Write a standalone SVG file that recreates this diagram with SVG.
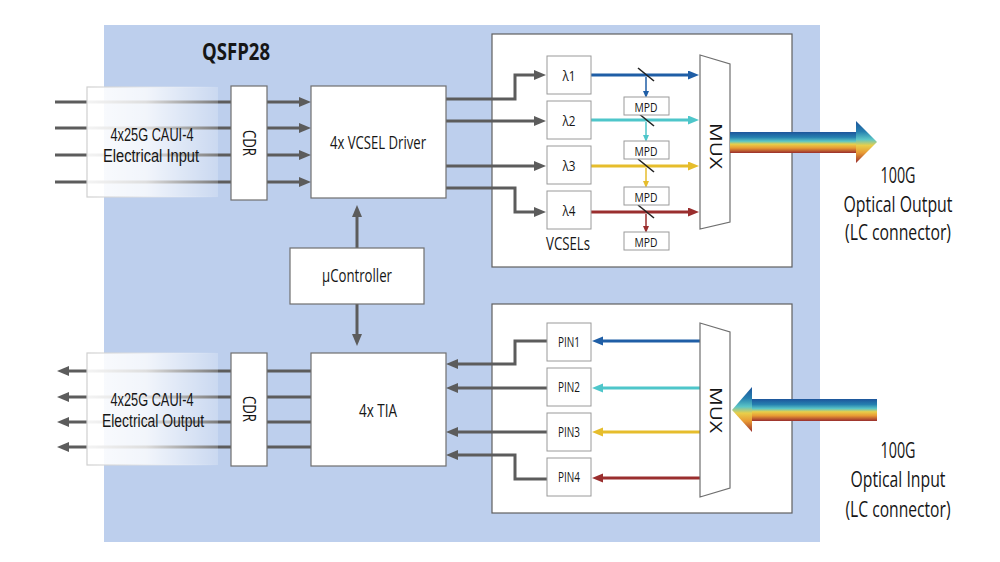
<svg xmlns="http://www.w3.org/2000/svg" width="1000" height="562" viewBox="0 0 1000 562">
<defs>
<style>
.txt{font-family:"Open Sans","Liberation Sans",sans-serif;fill:#161616;text-anchor:middle}
.tight{font-family:"Liberation Sans","Open Sans",sans-serif}
.box{fill:#fff;stroke:#6f6f6f;stroke-width:1.2}
.sbox{fill:#fff;stroke:#9a9a9a;stroke-width:1}
.panel{fill:#fff;stroke:#5f5f5f;stroke-width:1.2}
.wire{fill:none;stroke:#5c5c5c;stroke-width:3}
.g{marker-end:url(#ag)}
.beam{fill:none;stroke-width:3}
.tap{fill:none;stroke-width:1.5}
.mirror{stroke:#222;stroke-width:1.6}
</style>
<marker id="ag" markerUnits="userSpaceOnUse" markerWidth="13" markerHeight="11" refX="6" refY="5" orient="auto"><path d="M0,0 L12,5 L0,10 z" fill="#5c5c5c"/></marker>
<marker id="ab" markerUnits="userSpaceOnUse" markerWidth="12" markerHeight="10" refX="6" refY="4.5" orient="auto"><path d="M0,0 L11,4.5 L0,9 z" fill="#1f5ea6"/></marker>
<marker id="ac" markerUnits="userSpaceOnUse" markerWidth="12" markerHeight="10" refX="6" refY="4.5" orient="auto"><path d="M0,0 L11,4.5 L0,9 z" fill="#4ec6ca"/></marker>
<marker id="ay" markerUnits="userSpaceOnUse" markerWidth="12" markerHeight="10" refX="6" refY="4.5" orient="auto"><path d="M0,0 L11,4.5 L0,9 z" fill="#e6bd2c"/></marker>
<marker id="ar" markerUnits="userSpaceOnUse" markerWidth="12" markerHeight="10" refX="6" refY="4.5" orient="auto"><path d="M0,0 L11,4.5 L0,9 z" fill="#9a2e2e"/></marker>
<marker id="tb" markerUnits="userSpaceOnUse" markerWidth="8" markerHeight="8" refX="3" refY="3" orient="auto"><path d="M0,0 L7,3 L0,6 z" fill="#1f5ea6"/></marker>
<marker id="tc" markerUnits="userSpaceOnUse" markerWidth="8" markerHeight="8" refX="3" refY="3" orient="auto"><path d="M0,0 L7,3 L0,6 z" fill="#4ec6ca"/></marker>
<marker id="ty" markerUnits="userSpaceOnUse" markerWidth="8" markerHeight="8" refX="3" refY="3" orient="auto"><path d="M0,0 L7,3 L0,6 z" fill="#e6bd2c"/></marker>
<marker id="tr" markerUnits="userSpaceOnUse" markerWidth="8" markerHeight="8" refX="3" refY="3" orient="auto"><path d="M0,0 L7,3 L0,6 z" fill="#9a2e2e"/></marker>
<linearGradient id="fade" x1="0" y1="0" x2="1" y2="0">
<stop offset="0" stop-color="#fff" stop-opacity="0.93"/>
<stop offset="0.45" stop-color="#fff" stop-opacity="0.8"/>
<stop offset="1" stop-color="#fff" stop-opacity="0.2"/>
</linearGradient>
<linearGradient id="fadeStroke" x1="0" y1="0" x2="1" y2="0">
<stop offset="0" stop-color="#cfcfcf" stop-opacity="1"/>
<stop offset="0.3" stop-color="#dcdcdc" stop-opacity="0.8"/>
<stop offset="1" stop-color="#ffffff" stop-opacity="0"/>
</linearGradient>
<linearGradient id="rainbow" x1="0" y1="0" x2="0" y2="1">
<stop offset="0" stop-color="#1d559b"/>
<stop offset="0.25" stop-color="#2680b0"/>
<stop offset="0.44" stop-color="#5cc6c6"/>
<stop offset="0.58" stop-color="#e9cf4a"/>
<stop offset="0.76" stop-color="#e89a34"/>
<stop offset="1" stop-color="#992d2d"/>
</linearGradient>
</defs>

<rect width="1000" height="562" fill="#fff"/>
<rect id="qsfp28-body" x="104" y="25" width="716" height="517" fill="#bdcfed"/>

<g id="tx-optics-panel"><rect class="panel" x="492" y="34" width="300" height="233"/></g>
<g id="rx-optics-panel"><rect class="panel" x="492" y="304" width="300" height="209"/></g>

<g id="connectors">
<path class="wire" d="M55,102 H231 M55,128 H231 M55,155 H231 M55,182 H231"/>
<path class="wire g" d="M267,102 H305"/>
<path class="wire g" d="M267,128 H305"/>
<path class="wire g" d="M267,155 H305"/>
<path class="wire g" d="M267,182 H305"/>
<path class="wire g" d="M446,99 H515 V75 H540"/>
<path class="wire g" d="M446,121 H540"/>
<path class="wire g" d="M446,166 H540"/>
<path class="wire g" d="M446,188 H515 V212 H540"/>
<path class="wire g" d="M357,248 V211"/>
<path class="wire g" d="M357,304 V340"/>
<path class="wire g" d="M547,341 H515 V364 H452"/>
<path class="wire g" d="M547,388 H452"/>
<path class="wire g" d="M547,432 H452"/>
<path class="wire g" d="M547,479 H515 V455 H452"/>
<path class="wire" d="M311,371 H267 M311,397 H267 M311,422 H267 M311,447 H267"/>
<path class="wire g" d="M231,371 H63"/>
<path class="wire g" d="M231,397 H63"/>
<path class="wire g" d="M231,422 H63"/>
<path class="wire g" d="M231,447 H63"/>
<path class="beam" stroke="#1f5ea6" marker-end="url(#ab)" d="M591,75 H694"/>
<path class="beam" stroke="#4ec6ca" marker-end="url(#ac)" d="M591,120 H694"/>
<path class="beam" stroke="#e6bd2c" marker-end="url(#ay)" d="M591,166 H694"/>
<path class="beam" stroke="#9a2e2e" marker-end="url(#ar)" d="M591,212 H694"/>
<path class="tap" stroke="#1f5ea6" marker-end="url(#tb)" d="M646,77 V94"/>
<path class="tap" stroke="#4ec6ca" marker-end="url(#tc)" d="M646,122 V138"/>
<path class="tap" stroke="#e6bd2c" marker-end="url(#ty)" d="M646,168 V184"/>
<path class="tap" stroke="#9a2e2e" marker-end="url(#tr)" d="M646,214 V229"/>
<line class="mirror" x1="638" y1="68" x2="654" y2="81"/>
<line class="mirror" x1="638" y1="113" x2="654" y2="126"/>
<line class="mirror" x1="638" y1="159" x2="654" y2="172"/>
<line class="mirror" x1="638" y1="205" x2="654" y2="218"/>
<path class="beam" stroke="#1f5ea6" marker-end="url(#ab)" d="M700,341 H597"/>
<path class="beam" stroke="#4ec6ca" marker-end="url(#ac)" d="M700,388 H597"/>
<path class="beam" stroke="#e6bd2c" marker-end="url(#ay)" d="M700,432 H597"/>
<path class="beam" stroke="#9a2e2e" marker-end="url(#ar)" d="M700,478 H597"/>
</g>

<g id="electrical-input">
<rect x="87" y="87" width="131" height="110" fill="url(#fade)" stroke="url(#fadeStroke)" stroke-width="1.2"/>
<text class="txt tight" x="152" y="141" font-size="17.5" textLength="83" lengthAdjust="spacingAndGlyphs">4x25G CAUI-4</text>
<text class="txt tight" x="151" y="162" font-size="17.5" textLength="96" lengthAdjust="spacingAndGlyphs">Electrical Input</text>
</g>
<g id="electrical-output">
<rect x="87" y="353" width="131" height="112" fill="url(#fade)" stroke="url(#fadeStroke)" stroke-width="1.2"/>
<text class="txt tight" x="152" y="406" font-size="17.5" textLength="83" lengthAdjust="spacingAndGlyphs">4x25G CAUI-4</text>
<text class="txt tight" x="153" y="427" font-size="17.5" textLength="102" lengthAdjust="spacingAndGlyphs">Electrical Output</text>
</g>

<g id="title"><text class="txt" x="236" y="60" font-size="24" font-weight="bold" textLength="68" lengthAdjust="spacingAndGlyphs">QSFP28</text></g>

<g id="cdr-tx">
<rect class="box" x="231" y="86" width="36" height="114"/>
<text class="txt" transform="translate(249,143) rotate(90)" y="6.5" font-size="19" textLength="26" lengthAdjust="spacingAndGlyphs">CDR</text>
</g>
<g id="cdr-rx">
<rect class="box" x="231" y="353" width="36" height="113"/>
<text class="txt" transform="translate(249,409) rotate(90)" y="6.5" font-size="19" textLength="26" lengthAdjust="spacingAndGlyphs">CDR</text>
</g>
<g id="vcsel-driver">
<rect class="box" x="311" y="86" width="135" height="112"/>
<text class="txt" x="378" y="149" font-size="18.5" textLength="96" lengthAdjust="spacingAndGlyphs">4x VCSEL Driver</text>
</g>
<g id="ucontroller">
<rect class="box" x="290" y="248" width="134" height="56"/>
<text class="txt" x="357" y="282" font-size="17.5" textLength="70" lengthAdjust="spacingAndGlyphs">µController</text>
</g>
<g id="tia">
<rect class="box" x="311" y="353" width="135" height="113"/>
<text class="txt" x="378" y="417" font-size="18.5" textLength="38" lengthAdjust="spacingAndGlyphs">4x TIA</text>
</g>

<g id="vcsel-1"><rect class="sbox" x="547" y="56" width="44" height="38"/><text class="txt" x="569" y="81" font-size="15" textLength="13" lengthAdjust="spacingAndGlyphs">λ1</text></g>
<g id="vcsel-2"><rect class="sbox" x="547" y="101" width="44" height="38"/><text class="txt" x="569" y="126" font-size="15" textLength="13" lengthAdjust="spacingAndGlyphs">λ2</text></g>
<g id="vcsel-3"><rect class="sbox" x="547" y="146" width="44" height="38"/><text class="txt" x="569" y="171" font-size="15" textLength="13" lengthAdjust="spacingAndGlyphs">λ3</text></g>
<g id="vcsel-4"><rect class="sbox" x="547" y="191" width="44" height="38"/><text class="txt" x="569" y="216" font-size="15" textLength="13" lengthAdjust="spacingAndGlyphs">λ4</text></g>
<g id="vcsels-label"><text class="txt" x="568" y="250" font-size="18" textLength="44" lengthAdjust="spacingAndGlyphs">VCSELs</text></g>

<g id="mpd-1"><rect class="sbox" x="624" y="97" width="45" height="18"/><text class="txt" x="646" y="111.5" font-size="13.5" textLength="23" lengthAdjust="spacingAndGlyphs">MPD</text></g>
<g id="mpd-2"><rect class="sbox" x="624" y="141" width="45" height="18"/><text class="txt" x="646" y="155.5" font-size="13.5" textLength="23" lengthAdjust="spacingAndGlyphs">MPD</text></g>
<g id="mpd-3"><rect class="sbox" x="624" y="187" width="45" height="18"/><text class="txt" x="646" y="201.5" font-size="13.5" textLength="23" lengthAdjust="spacingAndGlyphs">MPD</text></g>
<g id="mpd-4"><rect class="sbox" x="624" y="232" width="45" height="18"/><text class="txt" x="646" y="246.5" font-size="13.5" textLength="23" lengthAdjust="spacingAndGlyphs">MPD</text></g>

<g id="mux-tx">
<path d="M700,55 L730,64 L730,222 L700,229 Z" fill="#fff" stroke="#6f6f6f" stroke-width="1.2"/>
<text class="txt" transform="translate(716,146) rotate(90)" y="6" font-size="17" textLength="46" lengthAdjust="spacingAndGlyphs">MUX</text>
</g>
<g id="mux-rx">
<path d="M700,323 L730,332 L730,488 L700,497 Z" fill="#fff" stroke="#6f6f6f" stroke-width="1.2"/>
<text class="txt" transform="translate(716,410) rotate(90)" y="6" font-size="17" textLength="46" lengthAdjust="spacingAndGlyphs">MUX</text>
</g>

<g id="pin-1"><rect class="sbox" x="547" y="323" width="44" height="38"/><text class="txt" x="569" y="347" font-size="14" textLength="22" lengthAdjust="spacingAndGlyphs">PIN1</text></g>
<g id="pin-2"><rect class="sbox" x="547" y="368" width="44" height="38"/><text class="txt" x="569" y="392" font-size="14" textLength="22" lengthAdjust="spacingAndGlyphs">PIN2</text></g>
<g id="pin-3"><rect class="sbox" x="547" y="413" width="44" height="38"/><text class="txt" x="569" y="437" font-size="14" textLength="22" lengthAdjust="spacingAndGlyphs">PIN3</text></g>
<g id="pin-4"><rect class="sbox" x="547" y="458" width="44" height="38"/><text class="txt" x="569" y="482" font-size="14" textLength="22" lengthAdjust="spacingAndGlyphs">PIN4</text></g>

<g id="optical-output">
<rect x="730" y="132" width="128" height="21" fill="url(#rainbow)"/>
<polygon points="856,121 877,142 856,163" fill="url(#rainbow)"/>
<text class="txt" x="898" y="183" font-size="21" textLength="35" lengthAdjust="spacingAndGlyphs">100G</text>
<text class="txt" x="898" y="212" font-size="21" textLength="109" lengthAdjust="spacingAndGlyphs">Optical Output</text>
<text class="txt" x="898" y="240" font-size="21" textLength="106" lengthAdjust="spacingAndGlyphs">(LC connector)</text>
</g>
<g id="optical-input">
<rect x="750" y="399" width="127" height="22" fill="url(#rainbow)"/>
<polygon points="732,410 752,387 752,432" fill="url(#rainbow)"/>
<text class="txt" x="898" y="458" font-size="21" textLength="35" lengthAdjust="spacingAndGlyphs">100G</text>
<text class="txt" x="898" y="487" font-size="21" textLength="95" lengthAdjust="spacingAndGlyphs">Optical Input</text>
<text class="txt" x="898" y="517" font-size="21" textLength="105" lengthAdjust="spacingAndGlyphs">(LC connector)</text>
</g>
</svg>
